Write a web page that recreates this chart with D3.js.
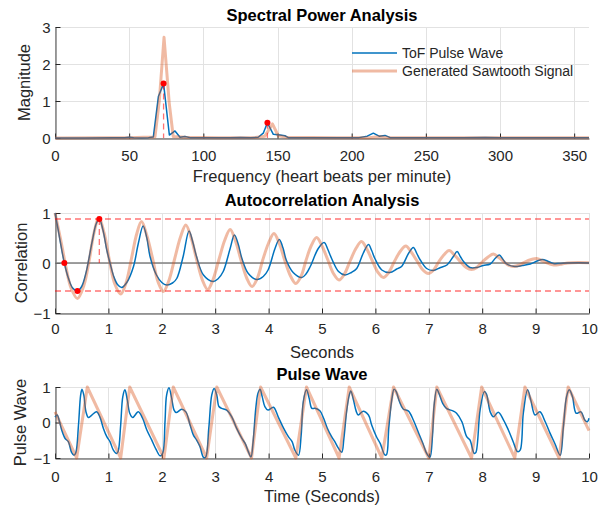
<!DOCTYPE html>
<html><head><meta charset="utf-8">
<script src="https://cdn.jsdelivr.net/npm/d3@7"></script>
<style>body{margin:0;background:#fff}svg text{font-family:"Liberation Sans",Arial,Helvetica,sans-serif}</style>
</head><body>
<script>
// ---------------- DATA ----------------
const specTicksX = [0,50,100,150,200,250,300,350];
const specTicksY = [0,1,2,3];
const timeTicks = [0,1,2,3,4,5,6,7,8,9,10];
const corrTicksY = [-1,0,1];
const pulseTicksY = [-1,0,1];
const legendLabels = ["ToF Pulse Wave","Generated Sawtooth Signal"];

// spectrum: [frequency bpm, magnitude]
const specBlue = [[0,0],[20,0.002],[40,0.004],[47,0.01],[50,0.02],[53,0.006],[58,0.0],[63,0.01],[66.3,0.03],[69.7,1.12],[73.2,1.47],[77.1,0.08],[80.9,0.19],[84.3,0.02],[87.6,0.04],[91,0.01],[105,0.005],[118,0.01],[125,0.015],[132,0.005],[137,0.02],[140.4,0.13],[143.2,0.41],[147.2,0.1],[151.7,0.08],[155,0.06],[157.3,0.01],[170,0.005],[195,0.005],[205,0.01],[210.5,0.05],[214.6,0.13],[218.5,0.05],[222.5,0.07],[226,0.01],[245,0.005],[275,0.005],[290,0.015],[300,0.008],[330,0.004],[360,0.004]];
const specOrange = [[0,0],[30,0.004],[50,0.01],[60,0.02],[67.4,0.03],[70.3,1.0],[73.5,2.72],[77,0.95],[79.7,0.04],[88,0.02],[110,0.01],[135,0.015],[141.5,0.05],[146.6,0.38],[150.5,0.06],[156,0.02],[190,0.01],[212,0.01],[219,0.04],[225,0.01],[280,0.006],[300,0.01],[330,0.004],[360,0.004]];
const specPeaks = [[73.2,1.47],[143.2,0.41]];

// autocorrelation: [lag s, correlation]
const acBlue = [[0,1],[0.05,0.72],[0.1,0.42],[0.175,0],[0.25,-0.3],[0.33,-0.5],[0.42,-0.56],[0.5,-0.47],[0.58,-0.2],[0.62,0.0],[0.7,0.45],[0.77,0.78],[0.83,0.88],[0.9,0.65],[0.97,0.26],[1.03,0.0],[1.1,-0.27],[1.17,-0.43],[1.25,-0.49],[1.35,-0.38],[1.47,-0.07],[1.56,0.39],[1.65,0.74],[1.72,0.5],[1.78,0.13],[1.9,-0.24],[2.0,-0.39],[2.09,-0.44],[2.2,-0.4],[2.28,-0.31],[2.4,0.13],[2.51,0.64],[2.58,0.42],[2.65,0.13],[2.78,-0.24],[2.96,-0.37],[3.05,-0.32],[3.15,-0.17],[3.28,0.29],[3.36,0.56],[3.43,0.38],[3.5,0.09],[3.62,-0.21],[3.78,-0.33],[3.9,-0.27],[3.99,-0.14],[4.12,0.29],[4.2,0.47],[4.27,0.3],[4.33,0.06],[4.46,-0.19],[4.62,-0.29],[4.7,-0.22],[4.78,-0.07],[4.93,0.29],[5.04,0.41],[5.11,0.27],[5.18,0.09],[5.31,-0.17],[5.43,-0.24],[5.55,-0.19],[5.65,-0.11],[5.77,0.19],[5.87,0.37],[5.93,0.25],[5.99,0.09],[6.12,-0.14],[6.27,-0.19],[6.4,-0.12],[6.49,-0.07],[6.62,0.19],[6.71,0.31],[6.78,0.18],[6.84,0.06],[6.96,-0.11],[7.08,-0.15],[7.22,-0.09],[7.34,-0.04],[7.46,0.13],[7.53,0.23],[7.59,0.13],[7.65,0.03],[7.77,-0.09],[7.9,-0.09],[8.02,-0.05],[8.15,-0.02],[8.25,0.1],[8.32,0.16],[8.39,0.07],[8.46,-0.02],[8.61,-0.07],[8.75,-0.05],[8.9,-0.02],[9.03,0.04],[9.13,0.07],[9.22,0.04],[9.33,-0.01],[9.45,-0.01],[9.58,0],[9.8,0.005],[10,0]];
const acOrange = [[0,1],[0.1,0.5],[0.2,-0.05],[0.3,-0.5],[0.42,-0.71],[0.54,-0.45],[0.64,0.05],[0.73,0.6],[0.82,0.9],[0.92,0.6],[1.02,0.05],[1.12,-0.42],[1.23,-0.62],[1.33,-0.4],[1.43,0.08],[1.53,0.58],[1.62,0.83],[1.72,0.55],[1.83,0.08],[1.93,-0.38],[2.03,-0.57],[2.13,-0.36],[2.24,0.08],[2.35,0.52],[2.45,0.76],[2.55,0.5],[2.65,0.08],[2.76,-0.34],[2.86,-0.53],[2.96,-0.33],[3.07,0.07],[3.18,0.46],[3.28,0.67],[3.38,0.44],[3.48,0.07],[3.59,-0.3],[3.69,-0.47],[3.79,-0.3],[3.89,0.06],[4.0,0.4],[4.1,0.59],[4.2,0.39],[4.3,0.06],[4.41,-0.26],[4.51,-0.41],[4.61,-0.26],[4.7,0.05],[4.8,0.35],[4.9,0.51],[5.0,0.34],[5.11,0.06],[5.22,-0.22],[5.32,-0.34],[5.42,-0.22],[5.53,0.05],[5.64,0.3],[5.74,0.43],[5.84,0.28],[5.94,0.05],[6.05,-0.19],[6.15,-0.29],[6.25,-0.19],[6.36,0.04],[6.47,0.24],[6.57,0.34],[6.67,0.22],[6.78,0.04],[6.89,-0.14],[6.99,-0.21],[7.09,-0.14],[7.19,0.03],[7.29,0.17],[7.38,0.25],[7.48,0.16],[7.59,0.03],[7.7,-0.09],[7.8,-0.13],[7.9,-0.09],[8.0,0.02],[8.11,0.12],[8.21,0.18],[8.31,0.11],[8.4,0.03],[8.5,-0.05],[8.58,-0.07],[8.7,-0.04],[8.8,0.02],[8.92,0.07],[9.02,0.09],[9.12,0.05],[9.22,0.0],[9.3,-0.03],[9.39,-0.04],[9.5,-0.02],[9.6,0],[9.8,0.01],[10,0.005]];
const acMarks = [[0.175,0],[0.42,-0.56],[0.83,0.88]];
const acLevels = [0.88,-0.56];

// pulse wave: [time s, amplitude]
const pwBlue = [[0,0.15],[0.04,0.21],[0.08,0.05],[0.125,-0.21],[0.19,-0.45],[0.25,-0.54],[0.31,-0.84],[0.356,-0.92],[0.39,-0.85],[0.44,-0.07],[0.48,0.77],[0.505,0.94],[0.54,0.77],[0.58,0.3],[0.625,0.14],[0.69,0.21],[0.78,0.3],[0.84,0.16],[0.905,-0.16],[0.97,-0.4],[1.03,-0.54],[1.09,-0.77],[1.155,-0.87],[1.185,-0.8],[1.23,-0.07],[1.27,0.73],[1.31,0.92],[1.355,0.63],[1.40,0.26],[1.455,0.14],[1.56,0.3],[1.64,0.12],[1.72,-0.21],[1.81,-0.49],[1.89,-0.75],[1.97,-0.94],[2.02,-0.85],[2.06,0.02],[2.09,0.77],[2.135,0.98],[2.185,0.68],[2.23,0.35],[2.27,0.28],[2.37,0.37],[2.45,0.3],[2.53,-0.07],[2.59,-0.35],[2.65,-0.49],[2.715,-0.68],[2.78,-0.98],[2.82,-0.98],[2.88,-0.16],[2.935,0.77],[2.98,0.96],[3.03,0.77],[3.07,0.45],[3.12,0.4],[3.215,0.35],[3.31,0.16],[3.40,-0.16],[3.50,-0.45],[3.56,-0.59],[3.62,-0.82],[3.67,-0.97],[3.71,-0.54],[3.76,0.4],[3.80,0.82],[3.84,0.94],[3.88,0.73],[3.93,0.45],[3.99,0.35],[4.09,0.43],[4.18,0.16],[4.28,-0.16],[4.37,-0.4],[4.44,-0.54],[4.49,-0.77],[4.56,-0.92],[4.61,-0.35],[4.65,0.59],[4.71,0.92],[4.76,0.68],[4.81,0.4],[4.87,0.4],[4.96,0.33],[5.03,0.12],[5.10,-0.16],[5.18,-0.4],[5.24,-0.54],[5.31,-0.73],[5.37,-0.84],[5.41,-0.45],[5.46,0.3],[5.51,0.77],[5.54,0.89],[5.59,0.63],[5.64,0.32],[5.68,0.21],[5.77,0.32],[5.87,0.21],[5.93,-0.07],[6.02,-0.4],[6.09,-0.59],[6.18,-0.92],[6.21,-0.9],[6.25,-0.16],[6.31,0.68],[6.35,0.94],[6.39,0.87],[6.45,0.59],[6.52,0.38],[6.62,0.32],[6.71,0.07],[6.80,-0.26],[6.89,-0.59],[6.96,-0.87],[7.02,-0.98],[7.07,-0.35],[7.10,0.49],[7.15,0.94],[7.19,0.82],[7.26,0.54],[7.33,0.4],[7.46,0.32],[7.52,0.26],[7.62,0.02],[7.71,-0.4],[7.77,-0.49],[7.85,-0.87],[7.88,-0.85],[7.96,0.35],[8.04,0.87],[8.08,0.8],[8.15,0.3],[8.21,0.16],[8.30,0.29],[8.40,0.07],[8.49,-0.21],[8.58,-0.54],[8.66,-0.82],[8.71,-0.78],[8.77,0.26],[8.85,0.92],[8.91,0.63],[8.99,0.21],[9.08,0.3],[9.18,0.02],[9.27,-0.3],[9.36,-0.59],[9.46,-0.92],[9.52,-0.12],[9.58,0.73],[9.63,0.92],[9.69,0.73],[9.76,0.26],[9.85,0.3],[9.92,0.07],[9.97,0.02],[10,0.12]];
const pwOrange = [[0,0.3],[0.406,-1],[0.605,1],[1.23,-1],[1.40,1],[2.04,-1],[2.215,1],[2.84,-1],[3.03,1],[3.68,-1],[3.85,1],[4.51,-1],[4.71,1],[5.32,-1],[5.51,1],[6.12,-1],[6.34,1],[7.0,-1],[7.15,1],[7.80,-1],[7.99,1],[8.61,-1],[8.80,1],[9.44,-1],[9.61,1],[10,-0.23]];

// ---------------- DRAWING ----------------
const W = 613, H = 508;
const BLUE = '#0072bd', ORANGE = 'rgb(217,83,25)';
const INK = '#262626';
const svg = d3.select('body').append('svg').attr('width', W).attr('height', H);
const SMOOTH = d3.curveCatmullRom.alpha(0.5);

function panel(o) {
  const x = d3.scaleLinear().domain(o.xd).range([55, 589]);
  const y = d3.scaleLinear().domain(o.yd).range([o.y1, o.y0]);
  const g = svg.append('g');
  g.selectAll(null).data(o.xt).join('line')
    .attr('x1', d => Math.round(x(d)) + 0.5).attr('x2', d => Math.round(x(d)) + 0.5)
    .attr('y1', o.y0).attr('y2', o.y1).attr('stroke', '#e2e2e2');
  g.selectAll(null).data(o.yt).join('line')
    .attr('y1', d => Math.round(y(d)) + 0.5).attr('y2', d => Math.round(y(d)) + 0.5)
    .attr('x1', 55).attr('x2', 589).attr('stroke', '#e2e2e2');
  const ax = g.append('g').attr('transform', `translate(0,${o.y1 + 0.5})`)
    .call(d3.axisBottom(x).tickValues(o.xt).tickSizeInner(-5).tickSizeOuter(0).tickFormat(d3.format('d')));
  ax.selectAll('text').attr('y', o.xlabY - o.y1).attr('dy', 0);
  const ay = g.append('g').attr('transform', `translate(55.5,0)`)
    .call(d3.axisLeft(y).tickValues(o.yt).tickSizeInner(-5).tickSizeOuter(0).tickFormat(d3.format('d')));
  ay.selectAll('text').attr('x', -5).attr('dy', '0.34em');
  [ax, ay].forEach(a => {
    a.selectAll('text').attr('fill', INK).style('font-size', '15px').style('font-family', '"Liberation Sans",Arial,sans-serif');
    a.selectAll('line').attr('stroke', INK);
    a.select('.domain').attr('stroke', '#444');
  });
  svg.append('text').attr('x', 322).attr('y', o.titleY).attr('text-anchor', 'middle')
    .style('font-size', '16.5px').style('font-weight', 'bold').attr('fill', '#000').text(o.title);
  svg.append('text').attr('x', 322).attr('y', o.xlY).attr('text-anchor', 'middle')
    .style('font-size', '16.5px').attr('fill', INK).text(o.xl);
  svg.append('text').attr('transform', `translate(${o.ylX},${(o.y0 + o.y1) / 2}) rotate(-90)`)
    .attr('text-anchor', 'middle').style('font-size', '16.5px').attr('fill', INK).text(o.yl);
  return {x, y, g};
}

function drawLine(p, data, color, width, opacity, curve) {
  p.g.append('path').datum(data)
    .attr('d', d3.line().x(d => p.x(d[0])).y(d => p.y(d[1])).curve(curve || d3.curveLinear))
    .attr('fill', 'none').attr('stroke', color).attr('stroke-width', width)
    .attr('stroke-opacity', opacity).attr('stroke-linejoin', 'round');
}
const DASH = 'rgba(255,0,0,0.55)';

// Panel 1: spectrum
const p1 = panel({xd: [0, 360], yd: [0, 3], y0: 27, y1: 138, xt: specTicksX, yt: specTicksY, xlabY: 160,
  title: 'Spectral Power Analysis', titleY: 21, xl: 'Frequency (heart beats per minute)', xlY: 182,
  yl: 'Magnitude', ylX: 30});
drawLine(p1, specBlue, BLUE, 1.5, 1);
drawLine(p1, specOrange, ORANGE, 3, 0.4);
p1.g.selectAll(null).data(specPeaks).join('line')
  .attr('x1', d => p1.x(d[0])).attr('x2', d => p1.x(d[0]))
  .attr('y1', d => p1.y(d[1])).attr('y2', p1.y(0))
  .attr('stroke', DASH).attr('stroke-width', 1.3).attr('stroke-dasharray', '6,4');
p1.g.selectAll(null).data(specPeaks).join('circle')
  .attr('cx', d => p1.x(d[0])).attr('cy', d => p1.y(d[1])).attr('r', 3).attr('fill', '#ff0000');
const lg = svg.append('g');
legendLabels.forEach((t, i) => {
  const yy = 53 + i * 18;
  lg.append('line').attr('x1', 352).attr('x2', 397).attr('y1', yy).attr('y2', yy)
    .attr('stroke', i === 0 ? BLUE : ORANGE).attr('stroke-width', i === 0 ? 1.5 : 3).attr('stroke-opacity', i === 0 ? 1 : 0.4);
  lg.append('text').attr('x', 402).attr('y', yy + 5).style('font-size', '14px').attr('fill', INK).text(t);
});

// Panel 2: autocorrelation
const p2 = panel({xd: [0, 10], yd: [-1, 1], y0: 213, y1: 313, xt: timeTicks, yt: corrTicksY, xlabY: 333,
  title: 'Autocorrelation Analysis', titleY: 206, xl: 'Seconds', xlY: 358,
  yl: 'Correlation', ylX: 26.5});
p2.g.append('line').attr('x1', p2.x(0)).attr('x2', p2.x(10)).attr('y1', p2.y(0)).attr('y2', p2.y(0))
  .attr('stroke', '#808080').attr('stroke-width', 1.5);
drawLine(p2, acBlue, BLUE, 1.5, 1, SMOOTH);
drawLine(p2, acOrange, ORANGE, 3, 0.4, SMOOTH);
p2.g.selectAll(null).data(acLevels).join('line')
  .attr('x1', p2.x(0)).attr('x2', p2.x(10)).attr('y1', d => p2.y(d)).attr('y2', d => p2.y(d))
  .attr('stroke', DASH).attr('stroke-width', 1.3).attr('stroke-dasharray', '6,4');
p2.g.append('line').attr('x1', p2.x(acMarks[2][0])).attr('x2', p2.x(acMarks[2][0]))
  .attr('y1', p2.y(acMarks[2][1])).attr('y2', p2.y(0))
  .attr('stroke', DASH).attr('stroke-width', 1.3).attr('stroke-dasharray', '6,4');
p2.g.selectAll(null).data(acMarks).join('circle')
  .attr('cx', d => p2.x(d[0])).attr('cy', d => p2.y(d[1])).attr('r', 3).attr('fill', '#ff0000');

// Panel 3: pulse wave
const p3 = panel({xd: [0, 10], yd: [-1, 1], y0: 387, y1: 458, xt: timeTicks, yt: pulseTicksY, xlabY: 481,
  title: 'Pulse Wave', titleY: 380, xl: 'Time (Seconds)', xlY: 502,
  yl: 'Pulse Wave', ylX: 26});
drawLine(p3, pwBlue, BLUE, 1.5, 1, SMOOTH);
drawLine(p3, pwOrange, ORANGE, 3, 0.4);
</script>
</body></html>
